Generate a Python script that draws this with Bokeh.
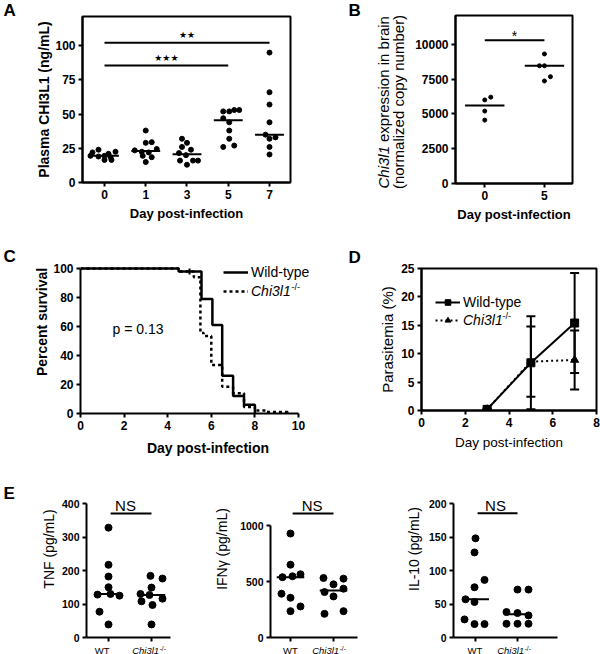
import math
from bokeh.plotting import figure
from bokeh.models import (Range1d, FixedTicker, Label, Legend, LegendItem,
                          Whisker, TeeHead, ColumnDataSource)
from bokeh.layouts import column, row
from bokeh.embed import file_html
from bokeh.resources import INLINE

FONT = "Liberation Sans"
STAR_FONT = "DejaVu Sans"

# ---------------- data ----------------
# A: plasma CHI3L1 (ng/mL) per day post-infection
a_days = ["0", "1", "3", "5", "7"]
a_day0 = [24, 22.5, 22, 21, 19.5, 19.5, 19, 18.5, 16.5, 16.5]
a_day1 = [38, 29, 29.5, 23.5, 24.5, 22.5, 22, 18.5, 19.5, 15]
a_day3 = [32, 29, 26, 24, 21.5, 20, 16, 16, 16, 13]
a_day5 = [52, 52, 53, 53, 47, 44, 38, 32, 26, 27]
a_day7 = [95, 66, 57, 44, 35, 33, 32, 26, 20.5]
a_sig_from = [0, 0]
a_sig_to = [4, 3]
a_sig_y = [102.2, 85.6]
a_sig_text = ["\u2605\u2605", "\u2605\u2605\u2605"]

# B: Chi3l1 expression in brain
b_days = ["0", "5"]
b_day0 = [6000, 6200, 5200, 4550]
b_day5 = [9300, 8450, 8450, 7670, 7360]
b_sig_y = 10290

# C: survival (step curves)
c_wt_t = [0, 4.5, 5.55, 6.05, 6.5, 7.0, 7.5, 8.0]
c_wt_s = [100, 98, 79, 61, 26, 12, 6, 0]
c_ko_t = [0, 4.5, 5.2, 5.5, 5.65, 6.0, 6.5, 7.0, 7.5, 8.0, 8.5, 9.5]
c_ko_s = [100, 98, 94, 55.5, 53.5, 33.5, 18.5, 14, 4.5, 2, 1, 0]
c_wt_censor_t = [5.0]
c_wt_censor_s = [98]

# D: parasitemia (%)
d_days = [3, 5, 7]
d_wt_mean = [0.2, 8.4, 15.4]
d_wt_err = [0.1, 8.2, 8.8]
d_ko_mean = [0.2, 8.6, 8.9]
d_ko_err = [0.1, 6.2, 5.2]

# E: cytokines
e_groups = ["WT", "Chi3l1"]
tnf_wt = [328, 217, 182, 150, 128, 130, 125, 77, 39]
tnf_ko = [184, 176, 149, 130, 127, 116, 108, 97, 39]
ifn_wt = [931, 652, 548, 566, 540, 392, 356, 278, 236]
ifn_ko = [533, 527, 476, 437, 407, 368, 236, 212]
il10_wt = [148, 127, 86, 75, 57, 53, 27, 20, 20]
il10_ko = [71.5, 71.5, 38, 36.5, 33, 20.5, 20.5, 20.5]
e_sig_y = [370, 1110, 185.5]

# ---------------- layout (horizontal jitter of dots, px) ----------------
a_jit = [
    [-6, 11, -12, 4, -14, 0, -6, 6, 0, 7],
    [0, 0, 6, -11, 11, -4, 3, 6, -3, 0],
    [-5, 0, -5, 4, -8, -1, -7, 6, 11, 0],
    [-5, 1, 6, 11, -5, 1, 1, 1, -5, 6],
    [0, 0, 0, 0, -4, 6, 0, 0, 0],
]
b_jit = [[0, 6, 0, 0], [0, -5, 0, 6, 0]]
tnf_jit = [[0, 0, 0, 0, -11, 2, 11, -9, 0], [-1, 11, 0, -11, -2, 11, -10, 1, 0]]
ifn_jit = [[0, 0, 2, 10, -8, -9, 0, 10, 0], [-10, 10, 0, 10, -9, 0, 10, -9]]
il10_jit = [[0, -1, 9, -1, -10, -1, -11, -1, 9], [0, 11, -11, 0, 11, -11, 0, 11]]


class Geo:
    """Figure placement in page pixels (page origin = top-left of window)."""
    def __init__(self, ox, oy, w, h, fl, ft, fr, fb, xr, yr):
        self.ox, self.oy, self.w, self.h = ox, oy, w, h
        self.fl, self.ft, self.fr, self.fb = fl, ft, fr, fb
        self.xr, self.yr = xr, yr

    def dx(self, px):
        return self.xr[0] + (px - self.fl) / (self.fr - self.fl) * (self.xr[1] - self.xr[0])

    def dy(self, py):
        return self.yr[0] + (self.fb - py) / (self.fb - self.ft) * (self.yr[1] - self.yr[0])

    def ux(self, px):
        return px / (self.fr - self.fl) * (self.xr[1] - self.xr[0])


def base_fig(g, **kw):
    return figure(width=g.w, height=g.h, x_range=Range1d(*g.xr), y_range=Range1d(*g.yr),
                  min_border=0,
                  min_border_left=g.fl - g.ox, min_border_right=g.ox + g.w - g.fr,
                  min_border_top=g.ft - g.oy, min_border_bottom=g.oy + g.h - g.fb,
                  frame_align=False,
                  output_backend="svg", toolbar_location=None, tools="", **kw)


def make(g, outline, xticks, yticks, xlabels=None, tick_size="12px"):
    p = base_fig(g)
    p.outline_line_color = "black" if outline else None
    p.outline_line_width = 2
    p.xgrid.visible = False
    p.ygrid.visible = False
    p.xaxis.ticker = FixedTicker(ticks=xticks)
    p.yaxis.ticker = FixedTicker(ticks=yticks)
    if xlabels is not None:
        p.xaxis.major_label_overrides = {t: s for t, s in zip(xticks, xlabels)}
    for ax in p.axis:
        ax.axis_line_width = 2
        ax.axis_line_color = "black"
        ax.major_tick_line_width = 2
        ax.major_tick_line_color = "black"
        ax.major_tick_in = 0
        ax.major_tick_out = 4
        ax.minor_tick_line_color = None
        ax.major_label_text_font = FONT
        ax.major_label_text_font_size = tick_size
        ax.major_label_text_font_style = "bold"
        ax.major_label_text_color = "black"
        ax.major_label_standoff = 3
        ax.axis_label_text_font = FONT
        ax.axis_label_text_color = "black"
        ax.axis_label_text_font_style = "normal"
    return p


def strip(x0, y0, w, h):
    g = Geo(x0, y0, w, h, x0, y0, x0 + w, y0 + h, (x0, x0 + w), (y0 + h, y0))
    p = base_fig(g, x_axis_type=None, y_axis_type=None)
    p.outline_line_color = None
    return p, g


def lab(p, g, px, py, text, size, style="normal", align="center", baseline="middle",
        angle=0.0, font=FONT):
    p.add_layout(Label(x=g.dx(px), y=g.dy(py), text=text, text_font=font,
                       text_font_size=f"{size}px", text_font_style=style,
                       text_align=align, text_baseline=baseline, angle=angle,
                       text_color="black"))


def dots(p, g, vals_groups, jit_groups, size, half=0.35):
    for i, (vals, jit) in enumerate(zip(vals_groups, jit_groups)):
        xs = [i + g.ux(j) for j in jit]
        p.scatter(xs, vals, size=size, color="black")
        s = sorted(vals)
        n = len(s)
        med = s[n // 2] if n % 2 else (s[n // 2 - 1] + s[n // 2]) / 2
        p.segment(x0=[i - half], x1=[i + half], y0=[med], y1=[med],
                  line_width=2, color="black")


def add_legend(p, label, renderers, vx, vy, italic=False):
    leg = Legend(items=[LegendItem(label=label, renderers=renderers)], location=(vx, vy),
                 glyph_width=25, glyph_height=14, label_height=14, label_standoff=3,
                 padding=0, margin=0, spacing=0, border_line_color=None,
                 background_fill_alpha=0, label_text_font=FONT, label_text_font_size="14px",
                 label_text_font_style="italic" if italic else "normal",
                 label_text_color="black")
    p.add_layout(leg)


# ================= row 1 =================
sA, gsA = strip(0, 0, 30, 230)
lab(sA, gsA, 3, 9.6, "A", 17, "bold", align="left")

gA = Geo(30, 0, 270, 230, 82, 16, 290, 182, (-0.533, 4.509), (0, 121.4))
pA = make(gA, True, list(range(len(a_days))), [0, 25, 50, 75, 100], a_days)
dots(pA, gA, [a_day0, a_day1, a_day3, a_day5, a_day7], a_jit, 5)
pA.segment(x0=a_sig_from, x1=a_sig_to, y0=a_sig_y, y1=a_sig_y, line_width=2, color="black")
for f, t, y, s in zip(a_sig_from, a_sig_to, a_sig_y, a_sig_text):
    pA.add_layout(Label(x=(f + t) / 2, y=y + 5.5, text=s, text_font=STAR_FONT,
                        text_font_size="9px", text_align="center", text_baseline="middle",
                        text_color="black"))
pA.xaxis.axis_label = "Day post-infection"
pA.xaxis.axis_label_text_font_size = "13px"
pA.xaxis.axis_label_text_font_style = "bold"
pA.xaxis.axis_label_standoff = 4
pA.yaxis.axis_label = "Plasma CHI3L1 (ng/mL)"
pA.yaxis.axis_label_text_font_size = "14px"
pA.yaxis.axis_label_text_font_style = "bold"
pA.yaxis.axis_label_standoff = 0

sB, gsB = strip(300, 0, 110, 230)
lab(sB, gsB, 348, 9.6, "B", 17, "bold", align="left")
lab(sB, gsB, 383, 188, "Chi3l1", 15, "italic", align="left", angle=math.pi / 2)
lab(sB, gsB, 383, 141.5, "expression in brain", 15, "normal", align="left", angle=math.pi / 2)
lab(sB, gsB, 398, 101.5, "(normalized copy number)", 15, "normal", angle=math.pi / 2)

gB = Geo(410, 0, 190, 230, 455, 15, 572, 183, (-0.49, 1.47), (0, 12060))
pB = make(gB, True, [0, 1], [0, 2500, 5000, 7500, 10000], b_days)
dots(pB, gB, [b_day0, b_day5], b_jit, 4, half=0.33)
pB.segment(x0=[0], x1=[1], y0=[b_sig_y], y1=[b_sig_y], line_width=2, color="black")
pB.add_layout(Label(x=0.5, y=gB.dy(35), text="*", text_font=FONT, text_font_size="14px",
                    text_align="center", text_baseline="middle", text_color="black"))
pB.xaxis.axis_label = "Day post-infection"
pB.xaxis.axis_label_text_font_size = "13px"
pB.xaxis.axis_label_text_font_style = "bold"
pB.xaxis.axis_label_standoff = 4

row1 = row(sA, pA, sB, pB)

# ================= row 2 =================
sC, gsC = strip(0, 230, 30, 230)
lab(sC, gsC, 3, 256, "C", 17, "bold", align="left")

gC = Geo(30, 230, 305, 230, 80, 230, 335, 413, (0, 11.697), (0, 126.21))
pC = make(gC, False, [0, 2, 4, 6, 8, 10], [0, 20, 40, 60, 80, 100])
pC.xaxis.bounds = (0, 10)
pC.yaxis.bounds = (0, 100)
pC.xaxis.major_label_overrides = {t: str(t) for t in [0, 2, 4, 6, 8, 10]}
r_wt = pC.step(c_wt_t, c_wt_s, mode="after", line_width=2.5, color="black")
r_ko = pC.step(c_ko_t, c_ko_s, mode="after", line_width=2.5, color="black", line_dash="3 3")
pC.scatter(c_wt_censor_t, c_wt_censor_s, marker="dash", angle=math.pi / 2, size=6,
           line_width=2, color="black")
pC.xaxis.axis_label = "Day post-infection"
pC.xaxis.axis_label_text_font_size = "14px"
pC.xaxis.axis_label_text_font_style = "bold"
pC.xaxis.axis_label_standoff = 7
pC.yaxis.axis_label = "Percent survival"
pC.yaxis.axis_label_text_font_size = "14px"
pC.yaxis.axis_label_text_font_style = "bold"
pC.yaxis.axis_label_standoff = 0
add_legend(pC, "Wild-type", [r_wt], 143, 133)
add_legend(pC, "Chi3l1", [r_ko], 143, 114, italic=True)
lab(pC, gC, 291, 286, "-/-", 9, align="left")
lab(pC, gC, 137.5, 328, "p = 0.13", 14)

sD, gsD = strip(335, 230, 41, 230)
lab(sD, gsD, 348, 256.5, "D", 17, "bold", align="left")

gD = Geo(376, 230, 224, 230, 419, 268, 596, 410, (0, 8), (0, 25))
pD = make(gD, True, [0, 2, 4, 6, 8], [0, 5, 10, 15, 20, 25])
pD.xaxis.major_label_overrides = {t: str(t) for t in [0, 2, 4, 6, 8]}
src_wt = ColumnDataSource(dict(x=d_days, y=d_wt_mean,
                               lo=[m - e for m, e in zip(d_wt_mean, d_wt_err)],
                               hi=[m + e for m, e in zip(d_wt_mean, d_wt_err)]))
src_ko = ColumnDataSource(dict(x=d_days, y=d_ko_mean,
                               lo=[m - e for m, e in zip(d_ko_mean, d_ko_err)],
                               hi=[m + e for m, e in zip(d_ko_mean, d_ko_err)]))
for src in (src_ko, src_wt):
    pD.add_layout(Whisker(source=src, base="x", lower="lo", upper="hi", line_width=2,
                          line_color="black",
                          lower_head=TeeHead(size=9, line_width=2, line_color="black"),
                          upper_head=TeeHead(size=9, line_width=2, line_color="black")))
rk_l = pD.line("x", "y", source=src_ko, line_width=2, line_dash="2 3", color="black")
rk_m = pD.scatter("x", "y", source=src_ko, marker="triangle", size=8, color="black")
rw_l = pD.line("x", "y", source=src_wt, line_width=2, color="black")
rw_m = pD.scatter("x", "y", source=src_wt, marker="square", size=8, color="black")
pD.xaxis.axis_label = "Day post-infection"
pD.xaxis.axis_label_text_font_size = "13.5px"
pD.xaxis.axis_label_standoff = 5
pD.yaxis.axis_label = "Parasitemia (%)"
pD.yaxis.axis_label_text_font_size = "15px"
pD.yaxis.axis_label_standoff = 2
add_legend(pD, "Wild-type", [rw_l, rw_m], 14, 100)
add_legend(pD, "Chi3l1", [rk_l, rk_m], 14, 82, italic=True)
lab(pD, gD, 501, 315, "-/-", 9, align="left")

row2 = row(sC, pC, sD, pD)

# ================= row 3 =================
sE, gsE = strip(0, 460, 30, 194)
lab(sE, gsE, 3, 493, "E", 17, "bold", align="left")

sT, gsT = strip(30, 643, 570, 11)


def e_panel(g, wt, ko, jit, yticks, ylabel, standoff, sig_y, ns_x, wt_x, ko_x):
    p = make(g, False, [0, 1], yticks, ["", ""], tick_size="10.5px")
    p.yaxis.bounds = (yticks[0], yticks[-1])
    p.xaxis.major_label_text_font_size = "0px"
    p.xaxis.major_label_standoff = 0
    dots(p, g, [wt, ko], jit, 7, half=0.32)
    p.segment(x0=[0.05], x1=[1.0], y0=[sig_y], y1=[sig_y], line_width=2, color="black")
    lab(p, g, ns_x, 505, "NS", 15)
    lab(sT, gsT, wt_x, 648.5, e_groups[0], 9.5)
    lab(sT, gsT, ko_x, 648.5, e_groups[1], 9.5, "italic", align="left")
    lab(sT, gsT, ko_x + 27.5, 646.8, "-/-", 6.5, align="left")
    p.yaxis.axis_label = ylabel
    p.yaxis.axis_label_text_font_size = "14px"
    p.yaxis.axis_label_standoff = standoff
    return p


gE1 = Geo(30, 460, 170, 183, 86, 460, 170, 637, (-0.512, 1.442), (0, 528.4))
gE2 = Geo(200, 460, 200, 183, 270, 460, 357, 637, (-0.465, 1.558), (0, 1585.1))
gE3 = Geo(400, 460, 200, 183, 453, 460, 557, 637, (-0.524, 1.952), (0, 264.2))
pE1 = e_panel(gE1, tnf_wt, tnf_ko, tnf_jit, [0, 100, 200, 300, 400], "TNF (pg/mL)", 2,
              e_sig_y[0], 125, 101.7, 131.7)
pE2 = e_panel(gE2, ifn_wt, ifn_ko, ifn_jit, [0, 500, 1000], "IFN\u03b3 (pg/mL)", 7,
              e_sig_y[1], 311.7, 290, 311.7)
pE3 = e_panel(gE3, il10_wt, il10_ko, il10_jit, [0, 50, 100, 150, 200], "IL-10 (pg/mL)", 4,
              e_sig_y[2], 495, 474.5, 496.7)

row3 = row(sE, column(row(pE1, pE2, pE3), sT))

root = column(row1, row2, row3)
open("out.html", "w").write(file_html(root, INLINE))
